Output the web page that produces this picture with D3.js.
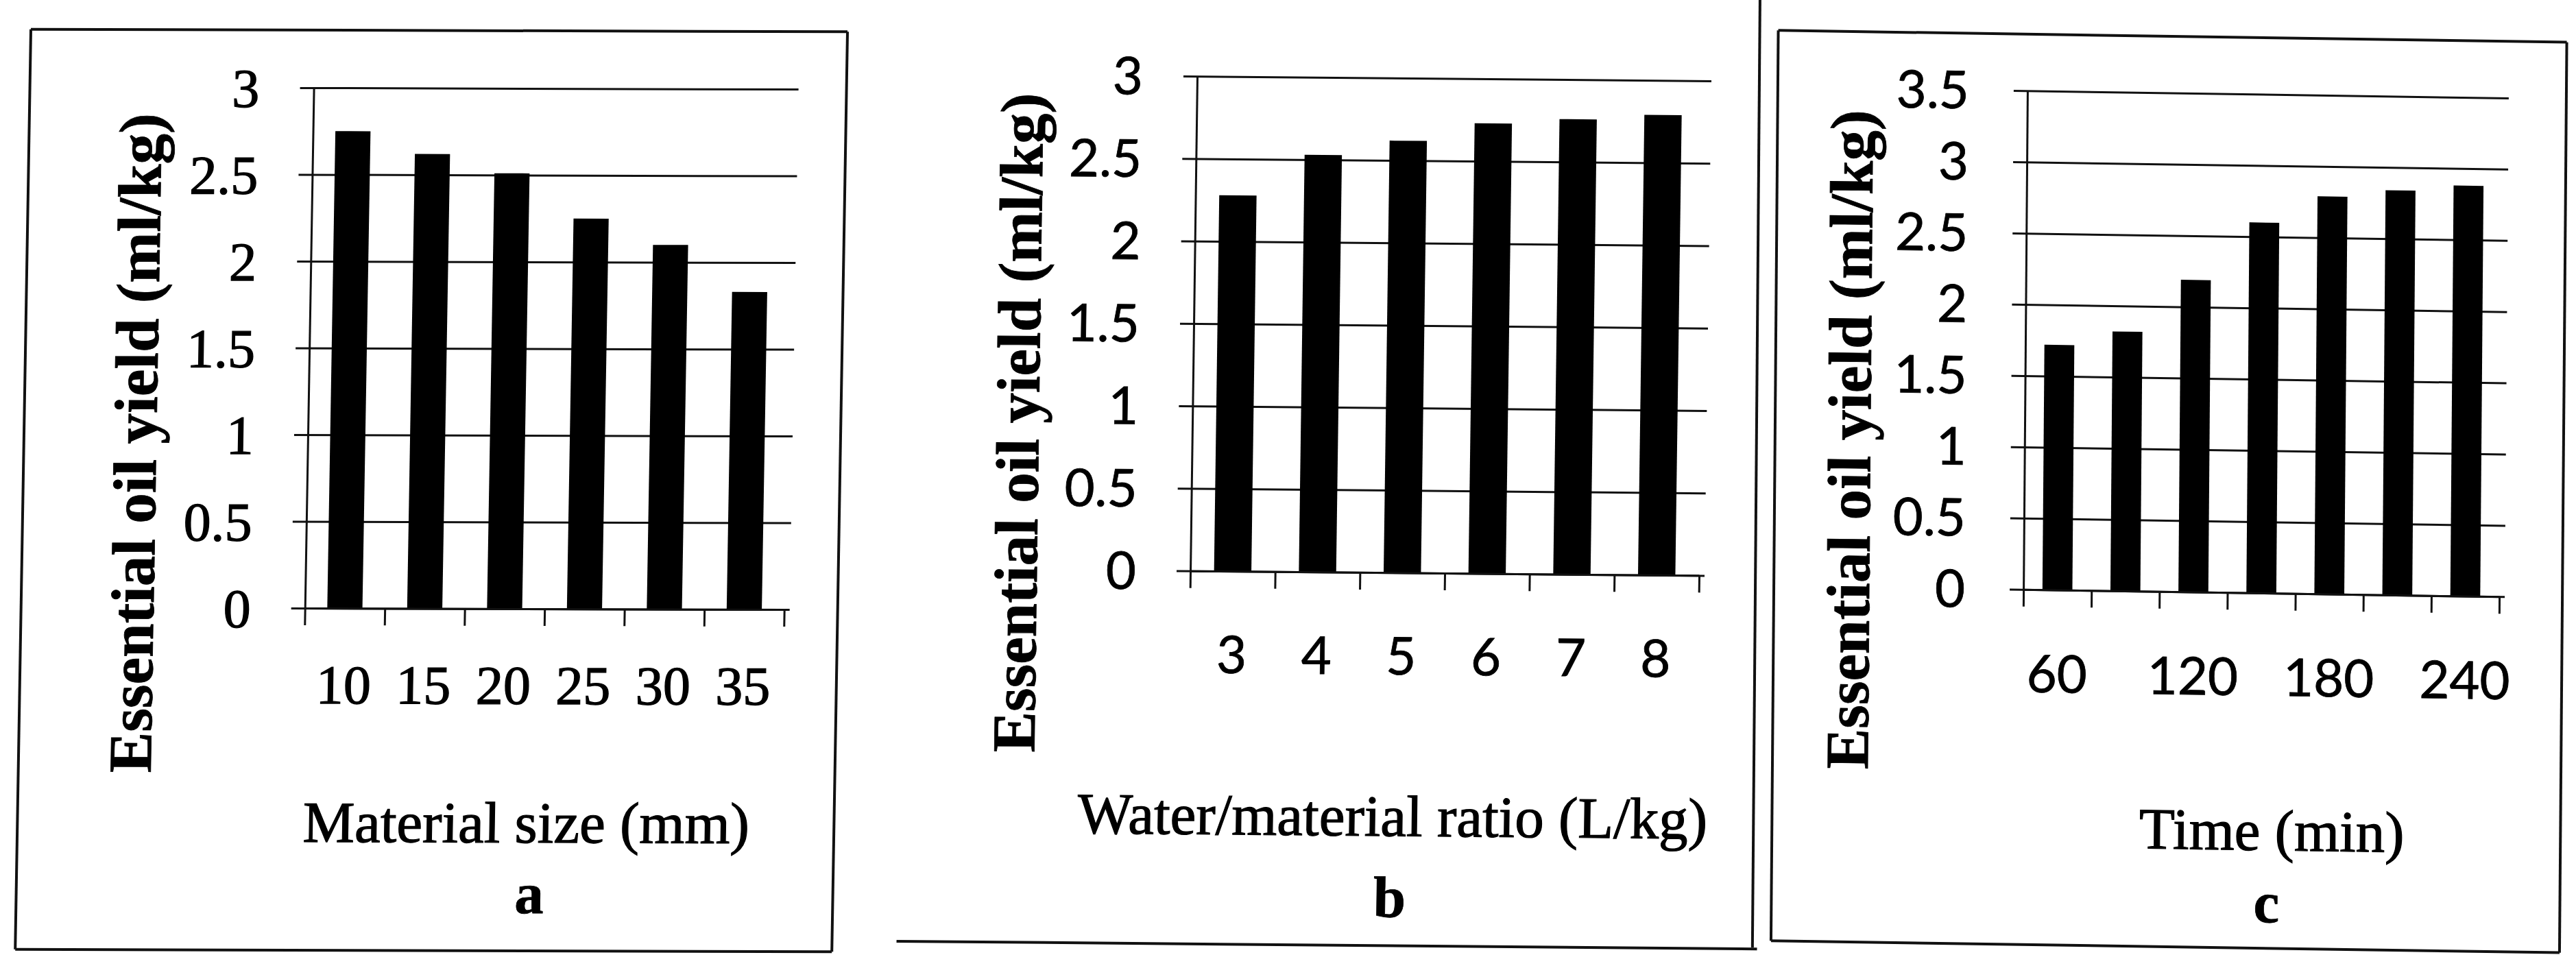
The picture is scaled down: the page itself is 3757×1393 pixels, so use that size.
<!DOCTYPE html>
<html>
<head>
<meta charset="utf-8">
<script src="https://cdn.jsdelivr.net/npm/d3@7"></script>
<style>
  body { margin: 0; background: #fff; }
  svg { display: block; }
</style>
</head>
<body>
<div class="figure"></div>
<script>
var w = 3757,
    h = 1393;

// a: material size
var sizeCats = ["10", "15", "20", "25", "30", "35"];
var sizeYield = [2.75, 2.62, 2.51, 2.25, 2.10, 1.83];
// b: water/material ratio
var ratioCats = ["3", "4", "5", "6", "7", "8"];
var ratioYield = [2.28, 2.53, 2.62, 2.73, 2.76, 2.79];
// c: extraction time
var timeCats = ["60", "90", "120", "150", "180", "210", "240"];
var timeYield = [1.72, 1.82, 2.19, 2.60, 2.79, 2.84, 2.88];
var timeLabels = ["60", "120", "180", "240"];

var yTicks3 = [0, 0.5, 1, 1.5, 2, 2.5, 3];
var yTicks35 = [0, 0.5, 1, 1.5, 2, 2.5, 3, 3.5];

var yTitle = "Essential oil yield (ml/kg)";
var xTitles = ["Material size (mm)", "Water/material ratio (L/kg)", "Time (min)"];
var tags = ["a", "b", "c"];

var serif = "'Liberation Serif', 'Times New Roman', serif",
    sans = "Lato, 'Open Sans', sans-serif";

// layout for each panel (the scan is a bit skewed, kx/ky)
var panels = [
  { cats: sizeCats, vals: sizeYield, shown: sizeCats, yTicks: yTicks3, yMax: 3,
    tickFont: serif, tickSize: 80, tickStroke: 1.3,
    x0: 451, x1: 1150, y0: 888, yTop: 129, gap: 79, xLabelY: 999,
    yTitleX: 199, yTitleY: 648, xTitleX: 779, xTitleY: 1229, tagX: 785, tagY: 1332,
    kx: -0.017, ky: 0.003, cx: 797, cy: 517,
    lines: [[37, 45, 1228, 45], [1228, 45, 1228, 1387], [1228, 1387, 37, 1387], [37, 1387, 37, 45]] },
  { cats: ratioCats, vals: ratioYield, shown: ratioCats, yTicks: yTicks3, yMax: 3,
    tickFont: sans, tickSize: 76, tickStroke: 0.8,
    x0: 1741, x1: 2483, y0: 836, yTop: 114.5, gap: 79, xLabelY: 958,
    yTitleX: 1486, yTitleY: 622, xTitleX: 2041, xTitleY: 1220, tagX: 2038, tagY: 1338,
    kx: -0.0138, ky: 0.009, cx: 2109, cy: 476,
    lines: [[1320, 1380, 2575, 1380]] },
  { cats: timeCats, vals: timeYield, shown: timeLabels, yTicks: yTicks35, yMax: 3.5,
    tickFont: sans, tickSize: 76, tickStroke: 0.8,
    x0: 2954, x1: 3648, y0: 865, yTop: 137.6, gap: 85, xLabelY: 988,
    yTitleX: 2698, yTitleY: 650, xTitleX: 3319, xTitleY: 1240, tagX: 3312, tagY: 1345,
    kx: -0.008, ky: 0.015, cx: 3300, cy: 500,
    lines: [[2563, 10, 2563, 1393], [2590, 55, 3740, 55], [3740, 55, 3740, 1383], [3740, 1383, 2590, 1383], [2590, 1383, 2590, 55]] }
];

var svg = d3.select(".figure").append("svg")
    .attr("width", w)
    .attr("height", h);

svg.append("rect").attr("width", w).attr("height", h).attr("fill", "#fff");

panels.forEach(function(p, k) {
  var g = svg.append("g")
      .attr("transform", "matrix(1," + p.ky + "," + p.kx + ",1," + (-p.kx * p.cy) + "," + (-p.ky * p.cx) + ")");

  var n = p.cats.length;
  var x = d3.scaleBand().domain(p.cats).range([p.x0, p.x1])
      .paddingInner(0.56).paddingOuter(0.28);
  var edges = d3.scaleLinear().domain([0, n]).range([p.x0, p.x1]);
  var y = d3.scaleLinear().domain([0, p.yMax]).range([p.y0, p.yTop]);

  // frame lines
  g.selectAll("line.frame").data(p.lines).enter().append("line")
      .attr("class", "frame")
      .attr("x1", function(d) { return d[0]; })
      .attr("y1", function(d) { return d[1]; })
      .attr("x2", function(d) { return d[2]; })
      .attr("y2", function(d) { return d[3]; })
      .attr("stroke", "#111")
      .attr("stroke-width", 4);

  // gridlines, they stick out left of the axis like ticks
  var grid = g.append("g")
      .attr("transform", "translate(" + (p.x0 - 20) + ",0)")
      .call(d3.axisLeft(y).tickValues(p.yTicks).tickSize(-(p.x1 - p.x0 + 28)).tickFormat(""));
  grid.select(".domain").remove();
  grid.selectAll("line").attr("stroke", "#111").attr("stroke-width", 3);

  // bars
  g.selectAll("rect.bar").data(p.vals).enter().append("rect")
      .attr("class", "bar")
      .attr("x", function(d, i) { return x(p.cats[i]); })
      .attr("width", x.bandwidth())
      .attr("y", function(d) { return y(d); })
      .attr("height", function(d) { return y(0) - y(d); })
      .attr("fill", "#000");

  // y axis
  var ya = g.append("g")
      .attr("transform", "translate(" + p.x0 + ",0)")
      .call(d3.axisLeft(y).tickValues(p.yTicks).tickSize(0).tickSizeOuter(0)
        .tickPadding(p.gap).tickFormat(function(d) { return String(d); }));
  ya.attr("font-family", p.tickFont).attr("font-size", p.tickSize);
  ya.select(".domain").attr("stroke", "#111").attr("stroke-width", 3);
  ya.selectAll("text").attr("fill", "#000").attr("dy", "0.35em")
      .attr("stroke", "#000").attr("stroke-width", p.tickStroke);

  // x axis line and ticks at category edges
  var xe = g.append("g")
      .attr("transform", "translate(0," + p.y0 + ")")
      .call(d3.axisBottom(edges).tickValues(d3.range(n + 1)).tickSize(25).tickSizeOuter(0).tickFormat(""));
  xe.select(".domain").attr("stroke", "#111").attr("stroke-width", 3);
  xe.selectAll("line").attr("stroke", "#111").attr("stroke-width", 3);

  // category labels
  var xa = g.append("g")
      .attr("transform", "translate(0," + p.y0 + ")")
      .call(d3.axisBottom(x).tickValues(p.shown).tickSize(0));
  xa.select(".domain").remove();
  xa.attr("font-family", p.tickFont).attr("font-size", p.tickSize);
  xa.selectAll("text").attr("fill", "#000")
      .attr("y", p.xLabelY - p.y0).attr("dy", "0.35em")
      .attr("stroke", "#000").attr("stroke-width", p.tickStroke);

  // titles
  g.append("text")
      .attr("transform", "translate(" + p.yTitleX + "," + p.yTitleY + ") rotate(-90)")
      .attr("text-anchor", "middle")
      .attr("dy", "0.35em")
      .attr("font-family", serif)
      .attr("font-weight", "bold")
      .attr("font-size", 89)
      .attr("stroke", "#000").attr("stroke-width", 0.8)
      .text(yTitle);

  g.append("text")
      .attr("x", p.xTitleX)
      .attr("y", p.xTitleY)
      .attr("text-anchor", "middle")
      .attr("font-family", serif)
      .attr("font-size", 85)
      .attr("stroke", "#000").attr("stroke-width", 1.2)
      .text(xTitles[k]);

  g.append("text")
      .attr("x", p.tagX)
      .attr("y", p.tagY)
      .attr("text-anchor", "middle")
      .attr("font-family", serif)
      .attr("font-weight", "bold")
      .attr("font-size", 85)
      .attr("stroke", "#000").attr("stroke-width", 0.8)
      .text(tags[k]);
});
</script>
</body>
</html>
